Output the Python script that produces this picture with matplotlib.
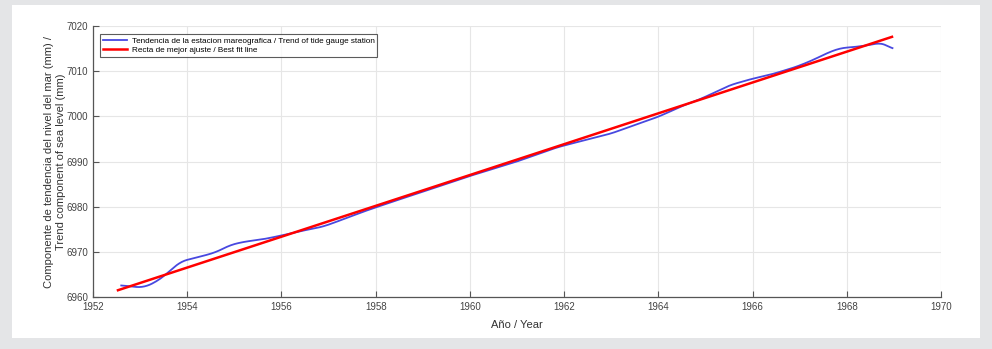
import numpy as np
import matplotlib.pyplot as plt

# =========================
# DATOS
# =========================
anio_tend = [1952.60, 1952.82, 1953.07, 1953.35, 1953.56, 1953.85, 1954.06, 1954.41,
             1954.63, 1954.91, 1955.19, 1955.62, 1956.04, 1956.32, 1956.89, 1957.31,
             1957.74, 1958.30, 1959.0, 1960.0, 1961.0, 1961.84, 1962.5, 1963.0,
             1963.61, 1964.0, 1964.53, 1964.89, 1965.52, 1965.95, 1966.44, 1966.94,
             1967.29, 1967.58, 1967.86, 1968.21, 1968.49, 1968.71, 1968.85, 1968.97]
nivel_tend = [6962.6, 6962.3, 6962.1, 6963.4, 6965.1, 6967.8, 6968.4, 6969.3,
              6970.0, 6971.5, 6972.2, 6972.8, 6973.7, 6974.4, 6975.6, 6977.2,
              6978.9, 6980.9, 6983.3, 6986.8, 6990.0, 6993.1, 6994.9, 6996.2,
              6998.5, 6999.9, 7002.4, 7003.8, 7006.9, 7008.2, 7009.4, 7011.0,
              7012.5, 7014.0, 7015.1, 7015.4, 7015.8, 7016.3, 7015.8, 7014.8]

anio_ajuste = [1952.53, 1968.96]
nivel_ajuste = [6961.5, 7017.6]

xticks = [1952, 1954, 1956, 1958, 1960, 1962, 1964, 1966, 1968, 1970]
yticks = [6960, 6970, 6980, 6990, 7000, 7010, 7020]

# =========================
# FIGURA
# =========================
plt.rcParams['font.family'] = ['Liberation Sans', 'DejaVu Sans']

fig = plt.figure(figsize=(9.92, 3.49), dpi=100, facecolor='#e4e5e7')
# panel blanco
fig.patches.append(plt.Rectangle((12 / 992, 1 - 338 / 349), 968 / 992, 333 / 349,
                                 transform=fig.transFigure, facecolor='white',
                                 edgecolor='none', zorder=-10))

ax = fig.add_axes([93 / 992, 1 - 297 / 349, 848 / 992, 271 / 349])
ax.set_facecolor('white')

# suavizar la curva de tendencia
xs = np.linspace(anio_tend[0], anio_tend[-1], 600)
ys = np.interp(xs, anio_tend, nivel_tend)
k = np.ones(11) / 11
ys_s = np.convolve(np.pad(ys, 5, mode='edge'), k, mode='valid')

ax.plot(xs, ys_s, color='#4848e0', lw=1.3,
        label='Tendencia de la estacion mareografica / Trend of tide gauge station')
ax.plot(anio_ajuste, nivel_ajuste, color='#ff0000', lw=1.8,
        label='Recta de mejor ajuste / Best fit line')

ax.set_xlim(1952, 1970)
ax.set_ylim(6960, 7020)
ax.set_xticks(xticks)
ax.set_yticks(yticks)
ax.grid(True, color='#e6e6e6', lw=0.8)
ax.set_axisbelow(True)

for s in ['top', 'right']:
    ax.spines[s].set_visible(False)
for s in ['left', 'bottom']:
    ax.spines[s].set_color('#555555')
    ax.spines[s].set_linewidth(0.9)

ax.tick_params(direction='in', length=4, width=0.8, colors='#555555',
               labelsize=7, labelcolor='#444444')

ax.set_xlabel('Año / Year', fontsize=8, color='#333333', labelpad=6)
ax.set_ylabel('Componente de tendencia del nivel del mar (mm) /\nTrend component of sea level (mm)',
              fontsize=8, color='#333333', labelpad=0, linespacing=1.25)

leg = ax.legend(loc='upper left', fontsize=5.9, frameon=True, fancybox=False,
                handlelength=3.0, handletextpad=0.5, borderpad=0.35,
                labelspacing=0.2, borderaxespad=0,
                bbox_to_anchor=(7 / 848, 1 - 8 / 271))
leg.get_frame().set_edgecolor('#333333')
leg.get_frame().set_linewidth(0.8)

fig.savefig('out.png', dpi=100, facecolor=fig.get_facecolor())
